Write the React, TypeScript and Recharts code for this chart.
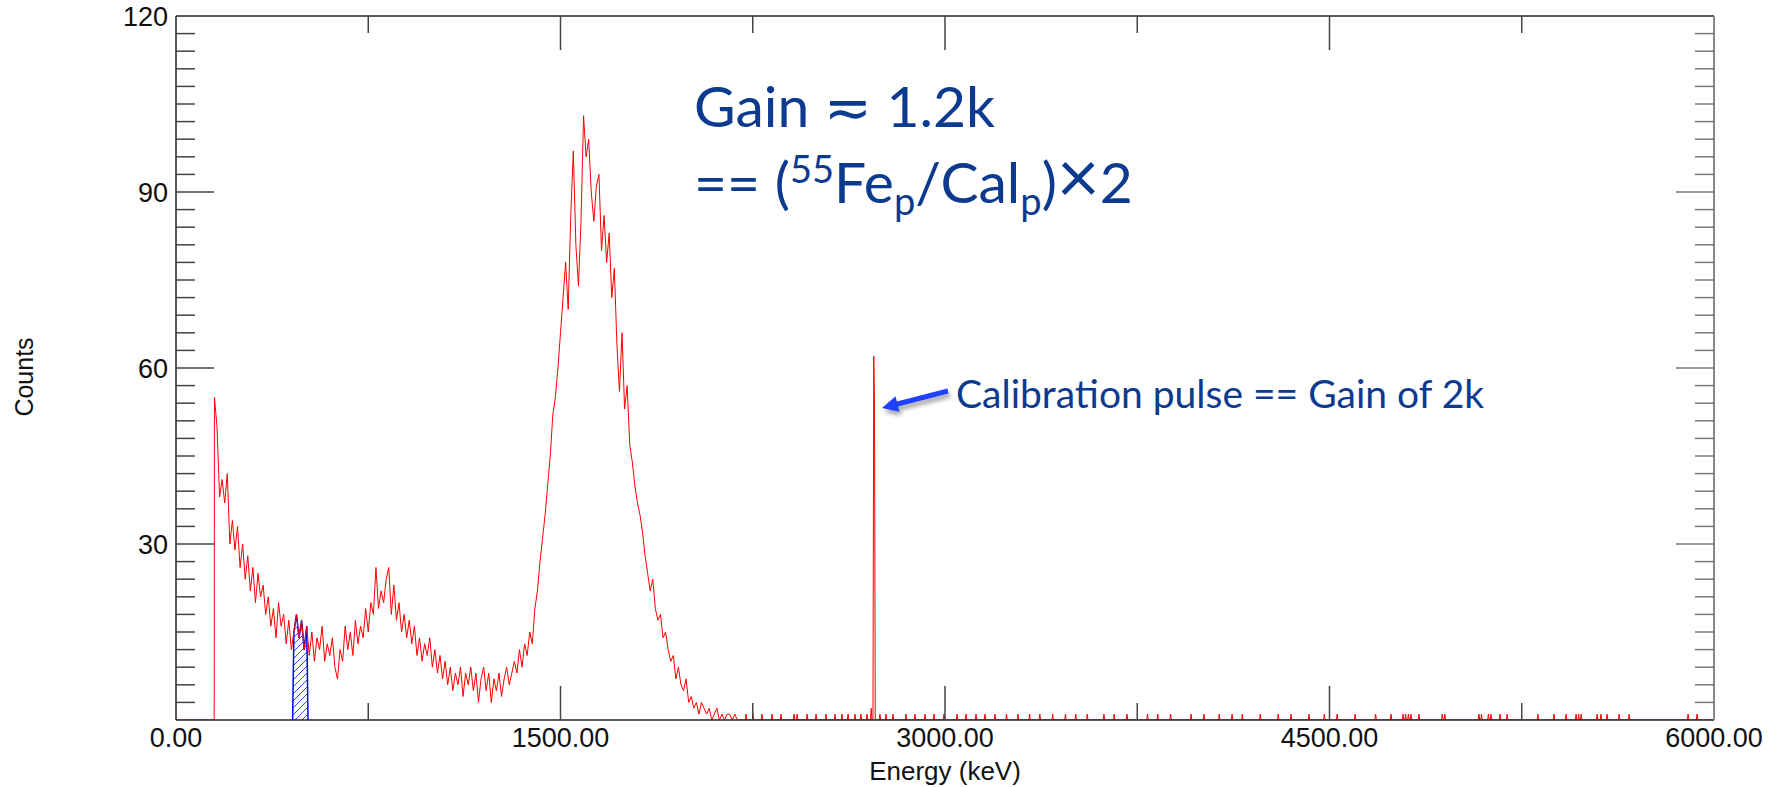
import { ComposedChart, Line, Area, XAxis, YAxis } from "recharts";

const W = 1777;
const H = 787;
const NAVY = "#0b3a8f";
const AXIS_FONT = "'Liberation Sans', Arial, Helvetica, sans-serif";
const NOTE_FONT = "Lato, 'Open Sans', sans-serif";

// histogram counts, 10 keV bins starting at 150 keV
const BIN_START = 150;
const BIN_WIDTH = 10;
const mainCounts = [
  55, 50, 38, 41, 37, 42, 30, 34, 29, 33, // 150-240
  26, 30, 24, 28, 22, 26, 20, 25, 21, 23, // 250-340
  18, 21, 16, 19, 14, 20, 16, 18, 13, 17, // 350-440
  12, 15, 18, 14, 17, 12, 16, // 450-510
  11, 15, 10, 14, 12, 16, 10, 13, 11, 14, // 520-610
  9, 7, 12, 10, 16, 12, 15, 11, 17, 13, // 620-710
  16, 14, 19, 15, 20, 18, 26, 19, 22, 20, // 720-810
  24, 26, 18, 23, 17, 20, 15, 18, 14, 17, // 820-910
  13, 16, 11, 14, 10, 13, 11, 14, 9, 12, // 920-1010
  8, 11, 7, 10, 6, 9, 5, 8, 6, 9, // 1020-1110
  4, 8, 6, 9, 5, 8, 3, 7, 9, 5, // 1120-1210
  8, 3, 7, 5, 8, 4, 7, 9, 6, 8, // 1220-1310
  10, 8, 12, 9, 13, 11, 15, 13, 19, 22, // 1320-1410
  27, 31, 35, 40, 45, 52, 55, 60, 66, 72, // 1420-1510
  78, 70, 86, 97, 81, 74, 85, 103, 96, 99, // 1520-1610
  90, 85, 91, 93, 80, 86, 78, 83, 72, 77, // 1620-1710
  64, 56, 66, 53, 57, 47, 44, 40, 37, 35, // 1720-1810
  32, 28, 25, 22, 24, 19, 17, 18, 14, 15, // 1820-1910
  12, 10, 11, 7, 9, 6, 5, 7, 3, 4, // 1920-2010
  2, 3, 1, 3, 2, 1, 2, 0, 1, 2, // 2020-2110
  0, 1, 0, 1, 1, 0, 1, 0, 0, // 2120-2200
];

// region of interest drawn in blue with hatching (keV)
const roiStart = 455;
const roiEnd = 515;

// sparse counts above 2.2 MeV, including the calibration pulse
const tailEnergy = [
  2224, 2251, 2286, 2325, 2360, 2411, 2423, 2462, 2497, 2536, 2571, 2598,
  2622, 2649, 2672, 2696, 2712, 2722, 2725, 2746, 2770, 2797, 2848, 2883,
  2922, 2957, 2996, 3047, 3082, 3121, 3156, 3195, 3240, 3285, 3330, 3370,
  3420, 3470, 3510, 3555, 3620, 3660, 3710, 3790, 3830, 3880, 3960, 4010,
  4070, 4120, 4160, 4230, 4300, 4350, 4420, 4480, 4530, 4600, 4680, 4740,
  4787, 4797, 4808, 4818, 4849, 4940, 4950, 5083, 5093, 5120, 5130, 5165,
  5193, 5313, 5376, 5423, 5462, 5472, 5482, 5544, 5559, 5583, 5630, 5669,
  5899, 5934,
];
const tailCount = [
  1, 1, 1, 1, 1, 1, 1, 1, 1, 1, 1, 1,
  1, 1, 1, 1, 2, 62, 54, 1, 1, 1, 1, 1,
  1, 1, 1, 1, 1, 1, 1, 1, 1, 1, 1, 1,
  1, 1, 1, 1, 1, 1, 1, 1, 1, 1, 1, 1,
  1, 1, 1, 1, 1, 1, 1, 1, 1, 1, 1, 1,
  1, 1, 1, 1, 1, 1, 1, 1, 1, 1, 1, 1,
  1, 1, 1, 1, 1, 1, 1, 1, 1, 1, 1, 1,
  1, 1,
];

const xTicks = [0, 750, 1500, 2250, 3000, 3750, 4500, 5250, 6000];
const yTicks = Array.from({ length: 41 }, (_, i) => i * 3);

type Pt = { energy: number; red?: number; blue?: number };

const data: Pt[] = [
  { energy: 0, red: 0 },
  { energy: BIN_START - 1, red: 0 },
];
mainCounts.forEach((c, i) => {
  const e = BIN_START + i * BIN_WIDTH;
  const inRoi = e > roiStart && e < roiEnd;
  data.push({ energy: e, red: c, blue: inRoi ? c : undefined });
});
data.push({ energy: roiStart, blue: 0 }, { energy: roiEnd, blue: 0 });
let prev = BIN_START + (mainCounts.length - 1) * BIN_WIDTH;
tailEnergy.forEach((e, i) => {
  if (e - prev > 6) {
    data.push({ energy: prev + 3, red: 0 }, { energy: e - 3, red: 0 });
  }
  data.push({ energy: e, red: tailCount[i] });
  prev = e;
});
data.push({ energy: prev + 3, red: 0 }, { energy: 6000, red: 0 });
data.sort((a, b) => a.energy - b.energy);

const TICK = "#444";

const BottomTick = (props: any) => {
  const { x, y, payload } = props;
  const v = payload.value;
  const major = v % 1500 === 0;
  return (
    <g>
      {v > 0 && v < 6000 && (
        <line x1={x} x2={x} y1={y} y2={y - (major ? 34 : 17)} stroke={TICK} strokeWidth={1.5} />
      )}
      {major && (
        <text x={x} y={y + 27} textAnchor="middle" fontSize={27} fontFamily={AXIS_FONT} fill="#111">
          {v.toFixed(2)}
        </text>
      )}
    </g>
  );
};

const TopTick = (props: any) => {
  const { x, y, payload } = props;
  const v = payload.value;
  if (v <= 0 || v >= 6000) return <g />;
  return <line x1={x} x2={x} y1={y} y2={y + (v % 1500 === 0 ? 34 : 17)} stroke={TICK} strokeWidth={1.5} />;
};

const LeftTick = (props: any) => {
  const { x, y, payload } = props;
  const v = payload.value;
  const major = v % 30 === 0;
  return (
    <g>
      {v > 0 && v < 120 && (
        <line x1={x} x2={x + (major ? 38 : 19)} y1={y} y2={y} stroke={TICK} strokeWidth={1.5} />
      )}
      {major && v > 0 && (
        <text x={x - 8} y={y + 9.5} textAnchor="end" fontSize={27} fontFamily={AXIS_FONT} fill="#111">
          {v}
        </text>
      )}
    </g>
  );
};

const RightTick = (props: any) => {
  const { x, y, payload } = props;
  const v = payload.value;
  if (v <= 0 || v >= 120) return <g />;
  return <line x1={x} x2={x - (v % 30 === 0 ? 38 : 19)} y1={y} y2={y} stroke="#777" strokeWidth={1.5} />;
};

export default function App() {
  return (
    <div style={{ position: "fixed", left: 0, top: 0, width: W, height: H, background: "#fff" }}>
      <ComposedChart
        width={W}
        height={H}
        data={data}
        margin={{ top: 15, left: 175, right: 62, bottom: 66 }}
      >
        <defs>
          <pattern id="hatch" patternUnits="userSpaceOnUse" width={7} height={7}>
            <path d="M-1,1 l2,-2 M0,7 l7,-7 M6,8 l2,-2" stroke="#1030ff" strokeWidth={0.9} />
          </pattern>
        </defs>
        <XAxis
          xAxisId="b"
          dataKey="energy"
          type="number"
          domain={[0, 6000]}
          allowDataOverflow
          ticks={xTicks}
          interval={0}
          height={1}
          tickSize={0}
          tickMargin={0}
          tickLine={false}
          tick={<BottomTick />}
          axisLine={{ stroke: "#222", strokeWidth: 1.5 }}
        />
        <XAxis
          xAxisId="t"
          orientation="top"
          dataKey="energy"
          type="number"
          domain={[0, 6000]}
          allowDataOverflow
          ticks={xTicks}
          interval={0}
          height={1}
          tickSize={0}
          tickMargin={0}
          tickLine={false}
          tick={<TopTick />}
          axisLine={{ stroke: "#222", strokeWidth: 1.5 }}
        />
        <YAxis
          yAxisId="l"
          type="number"
          domain={[0, 120]}
          allowDataOverflow
          ticks={yTicks}
          interval={0}
          width={1}
          tickSize={0}
          tickMargin={0}
          tickLine={false}
          tick={<LeftTick />}
          axisLine={{ stroke: "#222", strokeWidth: 1.5 }}
        />
        <YAxis
          yAxisId="r"
          orientation="right"
          type="number"
          domain={[0, 120]}
          allowDataOverflow
          ticks={yTicks}
          interval={0}
          width={1}
          tickSize={0}
          tickMargin={0}
          tickLine={false}
          tick={<RightTick />}
          axisLine={{ stroke: "#888", strokeWidth: 2 }}
        />
        <Line
          xAxisId="b"
          yAxisId="l"
          dataKey="red"
          type="linear"
          stroke="#ff0000"
          strokeWidth={1}
          dot={false}
          connectNulls
          isAnimationActive={false}
        />
        <Area
          xAxisId="b"
          yAxisId="l"
          dataKey="blue"
          type="linear"
          stroke="#0000ff"
          strokeWidth={1.5}
          fill="url(#hatch)"
          fillOpacity={1}
          isAnimationActive={false}
        />
      </ComposedChart>

      <svg
        width={W}
        height={H}
        style={{ position: "absolute", left: 0, top: 0, pointerEvents: "none" }}
      >
        <defs>
          <filter id="arrowShadow" x="-20%" y="-50%" width="140%" height="200%">
            <feDropShadow dx={2} dy={4} stdDeviation={2} floodColor="#000" floodOpacity={0.35} />
          </filter>
        </defs>
        <text
          transform="translate(33,377) rotate(-90)"
          textAnchor="middle"
          fontSize={25}
          fontFamily={AXIS_FONT}
          fill="#111"
        >
          Counts
        </text>
        <text x={945} y={780} textAnchor="middle" fontSize={26} fontFamily={AXIS_FONT} fill="#111">
          Energy (keV)
        </text>

        <text x={694} y={127} fontSize={57} fontFamily={NOTE_FONT} fill={NAVY}>
          Gain ≂ 1.2k
        </text>
        <text x={694} y={203} fontSize={57} fontFamily={NOTE_FONT} fill={NAVY}>
          == (<tspan dy={-20} fontSize={38}>55</tspan>
          <tspan dy={20}>Fe</tspan>
          <tspan dy={12} fontSize={38}>p</tspan>
          <tspan dy={-12}>/Cal</tspan>
          <tspan dy={12} fontSize={38}>p</tspan>
          <tspan dy={-12}>)</tspan>
          <tspan fontSize={74}>×</tspan>2
        </text>

        <polygon
          points="882,408 899.5,411.8 898.1,406.4 948.6,393.4 947.4,388.6 896.9,401.6 895.5,396.2"
          fill="#2040ff"
          filter="url(#arrowShadow)"
        />
        <text x={956} y={408} fontSize={39} fontFamily={NOTE_FONT} fill={NAVY}>
          Calibration pulse == Gain of 2k
        </text>
      </svg>
    </div>
  );
}
